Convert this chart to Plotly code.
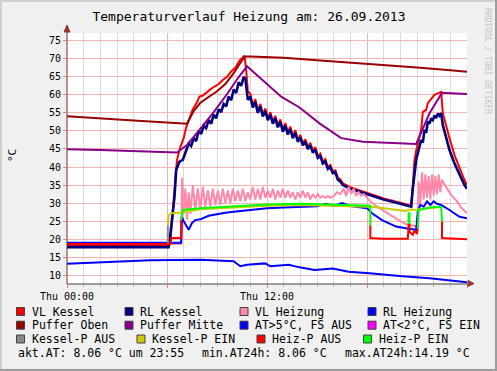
import plotly.graph_objects as go

# ---------------- data (hours since Thu 00:00) ----------------
vl_kessel_h = [0, 6.1, 6.2, 6.45, 6.6, 6.8, 7.0, 7.15, 7.35, 7.55, 7.75, 7.95, 8.15, 8.4, 8.6, 8.85, 9.1, 9.35, 9.6, 9.85,
               10.1, 10.35, 10.55, 10.65, 10.75, 10.85,
               11.0, 11.15, 11.3, 11.45, 11.6, 11.75, 11.9, 12.05, 12.2, 12.35, 12.5, 12.65, 12.8, 12.95, 13.1, 13.25,
               13.4, 13.55, 13.7, 13.85, 14.0, 14.15, 14.3, 14.45, 14.6, 14.75, 14.9, 15.05, 15.2, 15.35, 15.5, 15.65,
               15.8, 15.95, 16.1, 16.25, 16.4, 16.55, 17.0, 18.0, 19.0, 20.0, 20.65,
               20.75, 20.85, 20.95, 21.05, 21.25, 21.35, 21.55, 21.65, 21.85, 22.05, 22.25, 22.45, 22.55, 22.75, 22.95,
               23.25, 23.55, 23.85, 24]
vl_kessel = [18.2, 18.2, 19.5, 33, 42, 45.5, 48, 51, 53.5, 56, 57.5, 59.5, 59.8, 60.9, 61.5, 62.3, 63, 64.1, 65, 66.5,
             67.5, 69.5, 70.5, 70.8, 67, 61,
             60.3, 57.0, 58.8, 55.5, 57.5, 54.5, 56.2, 53.4, 55.2, 52.5, 54.2, 51.5, 53.2, 50.2, 52.2, 49.5,
             51.2, 48.5, 50.2, 47.5, 48.9, 46.5, 47.7, 45.5, 46.7, 44.5, 45.5, 43, 43.7, 41.5, 42.2, 40,
             40.6, 38.8, 39.1, 37, 36.6, 35.5, 34.4, 32.9, 31.3, 30.1, 29.3,
             35, 42, 44.5, 46.6, 50.3, 55.3, 55.8, 57.7, 59.0, 60.0, 60.4, 60.8, 54.9, 51.2, 48.0,
             43.3, 39.7, 36.4, 35.0]

rl_kessel_h = [0, 6.1, 6.15, 6.45, 6.55, 6.75, 6.95, 7.15, 7.3, 7.45, 7.6, 7.75, 7.9, 8.05, 8.2, 8.35, 8.5, 8.65, 8.8,
               8.95, 9.1, 9.25, 9.4, 9.55, 9.7, 9.85, 10.0, 10.15, 10.3, 10.45, 10.6, 10.7, 10.85,
               11.0, 11.15, 11.3, 11.45, 11.6, 11.75, 11.9, 12.05, 12.2, 12.35, 12.5, 12.65, 12.8, 12.95, 13.1, 13.25,
               13.4, 13.55, 13.7, 13.85, 14.0, 14.15, 14.3, 14.45, 14.6, 14.75, 14.9, 15.05, 15.2, 15.35, 15.5, 15.65,
               15.8, 15.95, 16.1, 16.25, 16.4, 16.55, 17.0, 18.0, 19.0, 20.0, 20.65,
               20.75, 20.95, 21.05, 21.15, 21.25, 21.35, 21.45, 21.55, 21.65, 21.75, 21.85, 21.95, 22.05, 22.15, 22.25,
               22.35, 22.45, 22.55, 22.75, 22.95, 23.25, 23.55, 23.85, 24]
rl_kessel = [17.8, 17.8, 19, 31.8, 39.2, 41.5, 42, 44.7, 46.5, 45.8, 48, 47.2, 50, 49.2, 51.5, 50.8, 53, 52, 54.5,
             53.5, 56, 55.2, 57.5, 56.8, 59.5, 58.5, 61.5, 60.5, 63.5, 62.5, 65, 64.5, 58.6,
             59.5, 56.5, 58, 55, 56.8, 54, 55.5, 53, 54.5, 52, 53.5, 51, 52.5, 49.8, 51.5, 49,
             50.5, 48, 49.5, 47, 48.2, 46, 47, 45, 46, 44, 44.8, 42.5, 43, 41, 41.5, 39.5,
             40, 38.3, 38.5, 36.5, 36, 35, 34.0, 32.5, 31.0, 29.8, 29.0,
             34.1, 42, 43.8, 45.5, 47.5, 46.8, 50.3, 49.5, 52.6, 52, 53.5, 53, 54.3, 53.6, 54.8,
             54.2, 54.9, 51.6, 48, 44.7, 41, 37.8, 35, 34.0]

vl_heizung_h = [0, 6.85, 6.9, 7.0, 7.1, 7.2, 7.3, 7.4, 7.55, 7.7, 7.85, 8.0, 8.15, 8.3, 8.45, 8.6, 8.75, 8.9, 9.05, 9.2,
                9.35, 9.5, 9.65, 9.8, 9.95, 10.1, 10.25, 10.4, 10.55, 10.7, 10.85, 11.0, 11.15, 11.3, 11.45, 11.6,
                11.75, 11.9, 12.05, 12.2, 12.35, 12.5, 12.65, 12.8, 12.95, 13.1, 13.25, 13.4, 13.55, 13.7, 13.85, 14.0,
                14.15, 14.3, 14.45, 14.6, 14.75, 14.9, 15.05, 15.2, 15.35, 15.5, 15.65, 15.8, 16.0, 16.2, 16.4, 16.6,
                16.75, 16.9, 17.05, 17.2, 17.35, 17.5, 17.65, 17.8, 18.0, 18.2, 18.6, 19.0, 19.5, 20.0, 20.45, 21.0,
                21.05, 21.1, 21.2, 21.3, 21.4, 21.5, 21.6, 21.7, 21.8, 21.9, 22.0, 22.1, 22.2, 22.3, 22.4, 22.5, 22.8,
                23.1, 23.4, 23.7, 24]
vl_heizung = [18.7, 18.7, 37, 27, 34, 25.5, 33, 27, 35, 28, 34, 28.5, 34.5, 29, 33.5, 29, 34, 29.5, 33.5, 29.5,
              34, 30, 33.5, 30, 34, 30.5, 33.5, 30.5, 34, 30.5, 33, 31, 34.5, 31, 34, 31,
              34.5, 31.5, 33.5, 31.5, 34, 31, 33.5, 31.5, 34, 31.5, 33.5, 31.5, 33, 31, 33, 31.5,
              33.5, 31.5, 33, 31, 32.5, 31.5, 32.5, 31.5, 32, 31.5, 32, 31.5, 32, 33, 32.5, 34,
              32, 34.5, 32.5, 34, 32, 33, 32, 32.5, 31.5, 30.5, 29, 27.8, 26.5, 25, 24, 23.5,
              24, 36, 30, 38.5, 31, 38, 31.5, 37.5, 31, 38, 32, 37.5, 32.5, 38, 33, 36.5, 34,
              32, 30.5, 28.5, 27.2]

rl_heizung_h = [0, 6.85, 6.9, 7.0, 7.3, 7.5, 7.7, 8.0, 8.5, 9.0, 9.5, 10.0, 11.0, 12.0, 13.0, 14.0, 15.0, 15.5, 16.0,
                16.5, 17.0, 18.0, 18.3, 18.9, 19.75, 20.5, 20.95, 21.05, 21.2, 21.4, 21.6, 21.8, 22.0, 22.2, 22.45,
                22.95, 23.55, 24]
rl_heizung = [19.0, 19.0, 26.2, 25, 22.6, 24.5, 25.3, 25.5, 26.5, 27.0, 27.3, 27.6, 28.1, 28.6, 28.8, 29.0, 29.1, 29.8,
              29.2, 30.0, 29.2, 28.6, 27.2, 25.3, 23.5, 22.9, 22.6, 27.6, 29.5, 29.0, 30.5, 29.5, 30.5, 29.8, 29.5,
              28.1, 26.2, 25.8]

puffer_oben_h = [0, 2, 4, 7.2, 7.6, 8.0, 8.5, 9.0, 9.5, 10.0, 10.4, 10.65, 11, 13, 15, 17, 19, 21, 23, 24]
puffer_oben = [54.1, 53.6, 52.9, 52.0, 55.5, 57.8, 59.5, 61.0, 63.0, 66.0, 68.8, 70.6, 70.6, 70.3, 69.6, 69.0, 68.4,
               67.6, 66.8, 66.4]

puffer_mitte_h = [0, 2, 6.6, 7.2, 7.95, 8.85, 9.65, 10.25, 10.8, 11.85, 12.85, 13.95, 15.15, 16.45, 17.75, 20.95,
                  21.3, 21.75, 22.5, 24]
puffer_mitte = [44.9, 44.7, 44.0, 46.1, 50.3, 55.5, 60.5, 64.6, 67.9, 63.6, 59.5, 56.5, 52.1, 48.0, 47.0, 46.4,
                50.0, 54.9, 60.6, 60.2]

at_h = [0, 2, 3.4, 5, 8, 10, 10.4, 10.8, 11.9, 12.2, 13.3, 13.95, 14.85, 15.95, 16.9, 18.15, 19.95, 21.75, 24]
at_aussen = [13.2, 13.6, 13.9, 14.2, 14.3, 13.9, 12.5, 12.9, 13.3, 12.5, 12.9, 12.2, 11.5, 11.9, 11.0, 10.6, 9.8,
             9.2, 8.1]

kessel_p_aus_h = [0, 6.05, 6.05]
kessel_p_aus = [18.7, 18.7, 23.9]

kessel_p_ein_h = [6.05, 6.1, 6.3, 6.85, 8, 10, 12, 14, 16, 18.2, 18.5, 19, 19.5, 20, 20.3, 20.6, 21.0, 21.1, 21.5,
                  22.45]
kessel_p_ein = [23.9, 26.7, 27.2, 27.4, 28.3, 28.9, 29.3, 29.5, 29.3, 29.1, 28.9, 28.6, 28.3, 28.0, 27.8, 28.2, 28.1,
                28.3, 28.5, 28.9]

heiz_p_aus_h = [0, 6.2, 6.25, 6.85, 6.85, None, 18.2, 18.2, 19, 20, 20.45, 20.5, None,
                20.55, 20.55, 20.75, 20.85, 21.0, 21.05, None, 22.5, 22.5, 24]
heiz_p_aus = [18.7, 18.7, 20.3, 20.3, 25.3, None, 23.9, 20.3, 20.1, 20.0, 20.1, 24.2, None,
              24.2, 22.0, 21.2, 22.4, 21.5, 23.0, None, 24.9, 20.3, 20.0]

heiz_p_ein_h = [6.85, 6.95, 8, 10, 12, 14, 16, 18.2, 18.2, None, 20.5, 20.5, 20.55, 20.55, None,
                21.05, 21.1, 21.5, 22.0, 22.45, 22.5]
heiz_p_ein = [25.3, 28.1, 28.6, 29.2, 29.6, 29.8, 29.5, 29.3, 23.9, None, 24.2, 27.2, 27.2, 24.2, None,
              23.0, 28.1, 28.5, 28.9, 29.0, 24.9]

x_tickvals = [0, 6, 12, 18, 24]
x_ticktext = ["Thu 00:00", "", "Thu 12:00", "", ""]
y_tickvals = [10, 15, 20, 25, 30, 35, 40, 45, 50, 55, 60, 65, 70, 75]

legend_rows = [
    [("VL Kessel", "#ff0000", 16.5), ("RL Kessel", "#000080", 125), ("VL Heizung", "#ff88aa", 240),
     ("RL Heizung", "#0000ff", 368)],
    [("Puffer Oben", "#990000", 16.5), ("Puffer Mitte", "#880088", 125), ("AT&gt;5°C, FS AUS", "#0000ff", 240),
     ("AT&lt;2°C, FS EIN", "#ff00ff", 368)],
    [("Kessel-P AUS", "#888888", 16.5), ("Kessel-P EIN", "#cccc00", 137), ("Heiz-P AUS", "#ff0000", 257),
     ("Heiz-P EIN", "#00ff00", 363.5)],
]
legend_row_y = [311.5, 325.2, 339]
stats_texts = [("akt.AT: 8.06 °C um 23:55", 16), ("min.AT24h: 8.06 °C", 200), ("max.AT24h:14.19 °C", 342.7)]

# ---------------- figure ----------------
W, H = 497, 371
L, R, T, B = 67, 30, 33, 87
PW, PH = W - L - R, H - T - B


def pxx(x):
    return (x - L) / PW


def pxy(y):
    return (H - B - y) / PH


MONO = "DejaVu Sans Mono"
fig = go.Figure()

series = [
    (vl_kessel_h, vl_kessel, "#ff0000", 2),
    (rl_kessel_h, rl_kessel, "#000080", 2.6),
    (vl_heizung_h, vl_heizung, "#ff88aa", 2),
    (rl_heizung_h, rl_heizung, "#0000ff", 2),
    (puffer_oben_h, puffer_oben, "#990000", 2),
    (puffer_mitte_h, puffer_mitte, "#880088", 2),
    (at_h, at_aussen, "#0000ff", 2),
    (kessel_p_aus_h, kessel_p_aus, "#888888", 2),
    (kessel_p_ein_h, kessel_p_ein, "#cccc00", 2),
    (heiz_p_aus_h, heiz_p_aus, "#ff0000", 2),
    (heiz_p_ein_h, heiz_p_ein, "#00ff00", 2),
]
for xs, ys, col, w in series:
    fig.add_trace(go.Scatter(x=xs, y=ys, mode="lines", line=dict(color=col, width=w),
                             connectgaps=False, showlegend=False, hoverinfo="skip"))

shapes = []
annotations = []

# legend swatches + labels
for row, yc in zip(legend_rows, legend_row_y):
    for label, col, sx in row:
        shapes.append(dict(type="rect", xref="paper", yref="paper",
                           x0=pxx(sx), x1=pxx(sx + 8), y0=pxy(yc - 4), y1=pxy(yc + 4),
                           fillcolor=col, line=dict(color="#404040", width=1)))
        annotations.append(dict(text=label, xref="paper", yref="paper", x=pxx(sx + 13), y=pxy(yc),
                                xanchor="left", yanchor="middle", showarrow=False,
                                font=dict(family=MONO, size=11.5, color="#000000")))
for txt, sx in stats_texts:
    annotations.append(dict(text=txt, xref="paper", yref="paper", x=pxx(sx), y=pxy(352.8),
                            xanchor="left", yanchor="middle", showarrow=False,
                            font=dict(family=MONO, size=11.5, color="#000000")))

# y axis title
annotations.append(dict(text="°C", xref="paper", yref="paper", x=pxx(12), y=pxy(155), textangle=-90,
                        xanchor="center", yanchor="middle", showarrow=False,
                        font=dict(family=MONO, size=11, color="#000000")))
# watermark
annotations.append(dict(text="RRDTOOL / TOBI OETIKER", xref="paper", yref="paper", x=pxx(488), y=pxy(61),
                        textangle=90, xanchor="center", yanchor="middle", showarrow=False,
                        font=dict(family=MONO, size=8, color="#c4c4c4")))

# axis arrows
shapes.append(dict(type="line", xref="paper", yref="paper", x0=pxx(L), x1=pxx(473), y0=0, y1=0,
                   line=dict(color="#404040", width=1)))
shapes.append(dict(type="line", xref="paper", yref="paper", x0=0, x1=0, y0=0, y1=pxy(26),
                   line=dict(color="#6a3030", width=1)))
shapes.append(dict(type="path", xref="paper", yref="paper",
                   path=f"M {pxx(468)} {pxy(280.5)} L {pxx(474)} {pxy(283.5)} L {pxx(468)} {pxy(286.5)} Z",
                   fillcolor="#993333", line=dict(color="#993333", width=1)))
shapes.append(dict(type="path", xref="paper", yref="paper",
                   path=f"M {pxx(64)} {pxy(32)} L {pxx(67)} {pxy(25)} L {pxx(70)} {pxy(32)} Z",
                   fillcolor="#993333", line=dict(color="#993333", width=1)))

# 3D frame
shapes.append(dict(type="line", xref="paper", yref="paper", x0=pxx(1), x1=pxx(1), y0=pxy(0), y1=pxy(H),
                   line=dict(color="#cfcfcf", width=2)))
shapes.append(dict(type="line", xref="paper", yref="paper", x0=pxx(0), x1=pxx(W), y0=pxy(1), y1=pxy(1),
                   line=dict(color="#cfcfcf", width=2)))
shapes.append(dict(type="line", xref="paper", yref="paper", x0=pxx(W - 1), x1=pxx(W - 1), y0=pxy(0), y1=pxy(H),
                   line=dict(color="#9e9e9e", width=2)))
shapes.append(dict(type="line", xref="paper", yref="paper", x0=pxx(0), x1=pxx(W), y0=pxy(H - 1), y1=pxy(H - 1),
                   line=dict(color="#9e9e9e", width=2)))

fig.update_layout(
    width=W, height=H,
    margin=dict(l=L, r=R, t=T, b=B, pad=0),
    paper_bgcolor="#f0f0f0", plot_bgcolor="#ffffff",
    title=dict(text="Temperaturverlauf Heizung am: 26.09.2013", x=249 / W, y=1 - 16 / H,
               xanchor="center", yanchor="middle", font=dict(family=MONO, size=13, color="#000000")),
    xaxis=dict(range=[0, 24], tickmode="array", tickvals=x_tickvals, ticktext=x_ticktext,
               showgrid=True, gridcolor="#f4b0b0", gridwidth=1, zeroline=False,
               showline=False, ticks="outside", ticklen=3, tickcolor="#e08080",
               tickfont=dict(family=MONO, size=10, color="#000000"),
               minor=dict(tick0=0, dtick=1, showgrid=True, gridcolor="#dcdcdc", gridwidth=1,
                          ticks="outside", ticklen=2, tickcolor="#b0b0b0"),
               fixedrange=True),
    yaxis=dict(range=[7.59, 77.13], tickmode="array", tickvals=y_tickvals,
               showgrid=True, gridcolor="#f2b4b4", gridwidth=1, zeroline=False, showline=False,
               ticks="outside", ticklen=3, tickcolor="#e08080",
               tickfont=dict(family=MONO, size=10, color="#000000"), fixedrange=True),
    shapes=shapes, annotations=annotations,
    showlegend=False,
)

fig.write_html("out.html", config={"displayModeBar": False},
               post_script="document.body.style.margin='0';document.body.style.overflow='hidden';")
